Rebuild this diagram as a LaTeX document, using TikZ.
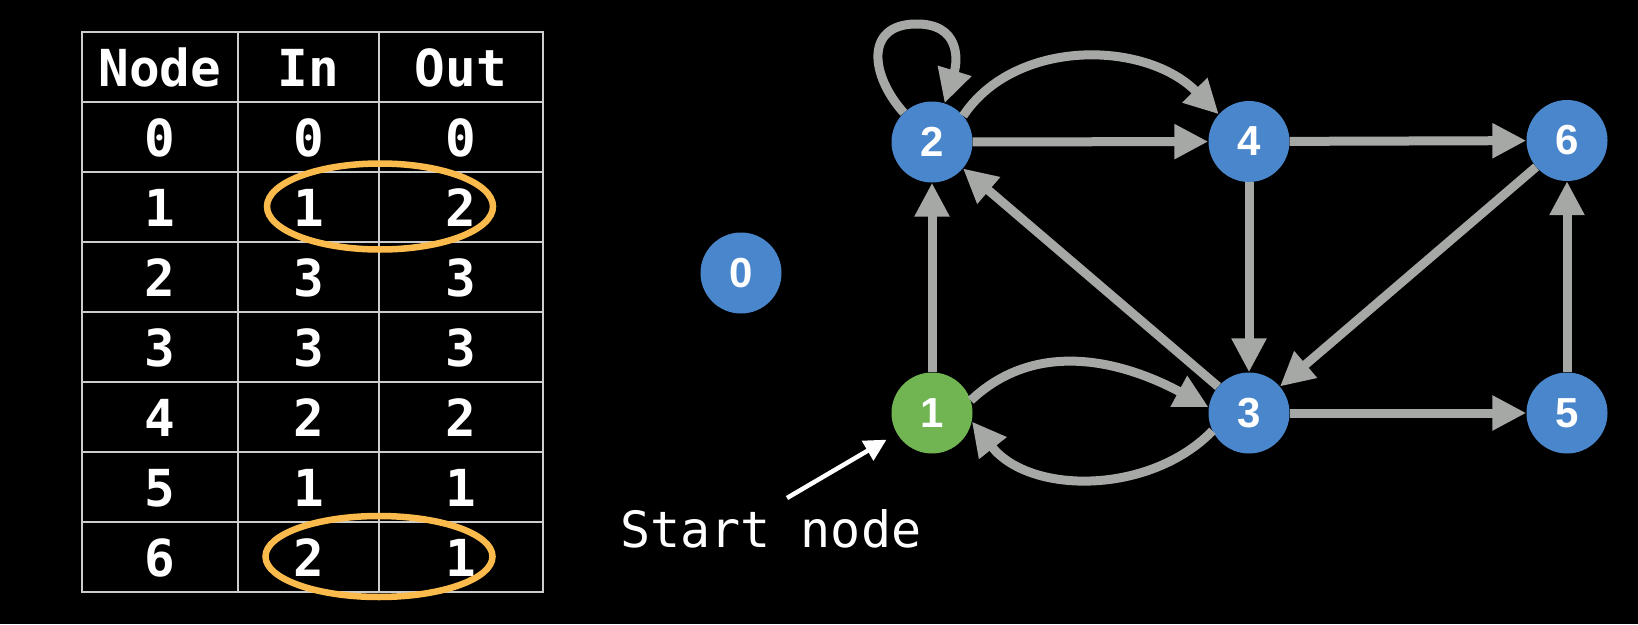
\documentclass[tikz,border=0pt]{standalone}
\usepackage{fontspec}
\setmainfont{Liberation Sans}
\newfontfamily\monofont{DejaVu Sans Mono}
\usetikzlibrary{arrows.meta}
\definecolor{nodeblue}{RGB}{74,134,203}
\definecolor{startgreen}{RGB}{112,181,82}
\definecolor{edgegray}{RGB}{166,168,166}
\definecolor{rulegray}{RGB}{205,205,205}
\definecolor{ringorange}{RGB}{250,186,76}

\begin{document}
\begin{tikzpicture}[x=1pt,y=-1pt,
  vertex/.style={circle, fill=nodeblue, minimum size=81pt, inner sep=0pt,
    text=white, font=\fontsize{42}{42}\selectfont\bfseries},
  startvertex/.style={vertex, fill=startgreen},
  edge/.style={draw=edgegray, line width=9pt, -{Triangle[length=34pt,width=33pt]}},
  cell/.style={anchor=base, text=white, inner sep=0pt,
    font=\monofont\fontsize{51}{51}\selectfont\bfseries},
  tablerule/.style={draw=rulegray, line width=2pt, line cap=rect},
  ring/.style={draw=ringorange, line width=6.5pt},
  pointer/.style={draw=white, line width=4.5pt, -{Triangle[length=22pt,width=22pt]}},
  caption/.style={anchor=base west, text=white, inner sep=0pt,
    font=\monofont\fontsize{50}{50}\selectfont}
]
% background and page size
\fill[black] (0,0) rectangle (1638,624);
\useasboundingbox (0,0) rectangle (1638,624);

% ---- degree table ----
\foreach \i in {0,...,8}
  \draw[tablerule] (82,32+69.94*\i) -- (543,32+69.94*\i);
\foreach \x in {82,238,379,543}
  \draw[tablerule] (\x,32) -- (\x,591.5);

\node[cell] (head-node) at (160,86) {Node};
\node[cell] (head-in)   at (308.5,86) {In};
\node[cell] (head-out)  at (461,86) {Out};
\foreach \n/\a/\b [count=\r] in {0/0/0,1/1/2,2/3/3,3/3/3,4/2/2,5/1/1,6/2/1} {
  \node[cell] (row\n-node) at (160,32+69.94*\r+55) {\n};
  \node[cell] (row\n-in)   at (308.5,32+69.94*\r+55) {\a};
  \node[cell] (row\n-out)  at (461,32+69.94*\r+55) {\b};
}

% highlighted rows
\draw[ring] (380,206.5) ellipse [x radius=113, y radius=43];
\draw[ring] (379,556.5) ellipse [x radius=113.5, y radius=40.5];

% ---- graph ----
\node[vertex] (v0) at (741,273) {0};
\node[vertex] (v2) at (932,142) {2};
\node[vertex] (v4) at (1249,141.5) {4};
\node[vertex] (v6) at (1567,140.5) {6};
\node[startvertex] (v1) at (932,413) {1};
\node[vertex] (v3) at (1249,413) {3};
\node[vertex] (v5) at (1567,413) {5};

\draw[edge] (v2) -- (v4);
\draw[edge] (v4) -- (v6);
\draw[edge] (v4) -- (v3);
\draw[edge] (v3) -- (v5);
\draw[edge] (v5) -- (v6);
\draw[edge] (v6) -- (v3);
\draw[edge] (v3) -- (v2);
\draw[edge] (v1) -- (v2);
\draw[edge] (v2.40) .. controls (1015,38) and (1145,40) .. (v4.138);
\draw[edge] (v1.18) .. controls (1040,335) and (1130,365) .. (v3.172);
\draw[edge] (v3.206) .. controls (1150,495) and (1030,495) .. (v1.348);
\draw[edge] (v2.134) .. controls (870,75) and (865,25) .. (915,24)
            .. controls (960,23) and (958,60) .. (v2.72);

% start marker
\coordinate (startTail) at (787,498);
\draw[pointer, shorten >=12pt] (startTail) -- (v1);
\node[caption] (startlabel) at (620,547) {Start node};
\end{tikzpicture}
\end{document}
